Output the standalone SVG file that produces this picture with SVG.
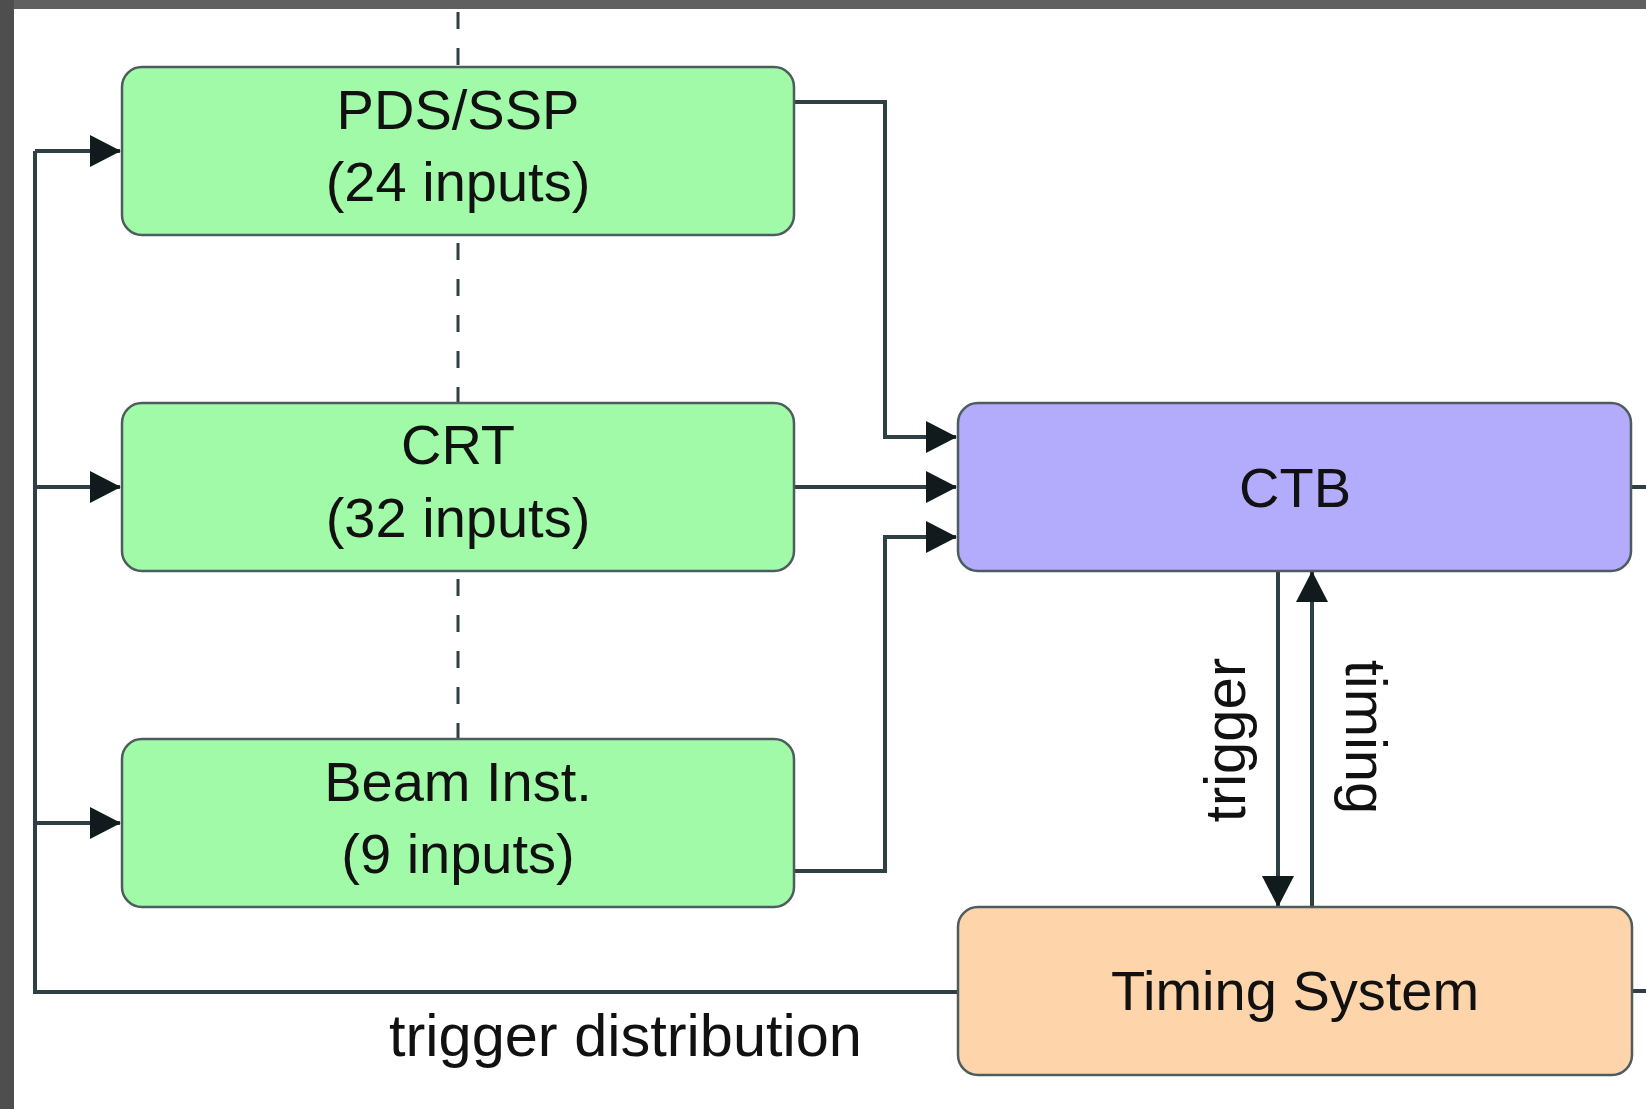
<svg xmlns="http://www.w3.org/2000/svg" width="1646" height="1109" viewBox="0 0 1646 1109">
  <style>
    .node rect { stroke: #4d5c5e; stroke-width: 2.5; }
    .pds rect, .crt rect, .beam rect { fill: #a0faa8; }
    .ctb rect { fill: #b3abfb; }
    .timing rect { fill: #fed4ab; }
    .label { font-family: "Liberation Sans", Arial, sans-serif; font-size: 56px; fill: #111; text-anchor: middle; }
    .edge { fill: none; stroke: #2e4044; stroke-width: 4; }
    .dash { fill: none; stroke: #2e4044; stroke-width: 3; stroke-dasharray: 17 19; }
    .elabel { font-family: "Liberation Sans", Arial, sans-serif; font-size: 58px; fill: #111; }
    .big { font-size: 59.5px; }
  </style>
  <defs>
    <marker id="arrow" markerUnits="userSpaceOnUse" markerWidth="32" markerHeight="32" refX="30" refY="16" orient="auto">
      <path d="M0,0 L31,16 L0,32 Z" fill="#111a1c"/>
    </marker>
  </defs>

  <!-- page background and frame -->
  <rect x="0" y="0" width="1646" height="1109" fill="#ffffff"/>
  <rect x="0" y="0" width="1646" height="9" fill="#5f5f5f"/>
  <rect x="0" y="0" width="14" height="1109" fill="#4e4e4e"/>

  <!-- dashed chain between the detector inputs -->
  <g id="chain">
    <line class="dash" x1="458" y1="12" x2="458" y2="66"/>
    <line class="dash" x1="458" y1="243" x2="458" y2="403"/>
    <line class="dash" x1="458" y1="579" x2="458" y2="739"/>
  </g>

  <g id="connectors">
    <!-- trigger distribution loop -->
    <path class="edge" d="M958,992 L35,992 L35,151"/>
    <path class="edge" d="M35,151 L120,151" marker-end="url(#arrow)"/>
    <path class="edge" d="M35,487 L120,487" marker-end="url(#arrow)"/>
    <path class="edge" d="M35,823 L120,823" marker-end="url(#arrow)"/>
    <!-- inputs to CTB -->
    <path class="edge" d="M794,102 L885,102 L885,437 L956,437" marker-end="url(#arrow)"/>
    <path class="edge" d="M794,487 L956,487" marker-end="url(#arrow)"/>
    <path class="edge" d="M794,871 L885,871 L885,537 L956,537" marker-end="url(#arrow)"/>
    <!-- CTB / timing system -->
    <path class="edge" d="M1278,571 L1278,906" marker-end="url(#arrow)"/>
    <path class="edge" d="M1312,907 L1312,572" marker-end="url(#arrow)"/>
    <!-- outgoing stubs -->
    <path class="edge" d="M1631,487 L1646,487"/>
    <path class="edge" d="M1632,991 L1646,991"/>
  </g>

  <g id="edge-labels">
    <text class="elabel" text-anchor="middle" transform="translate(1245,740) rotate(-90)">trigger</text>
    <text class="elabel" text-anchor="middle" transform="translate(1346,737) rotate(90)">timing</text>
    <text class="elabel big" x="389" y="1056">trigger distribution</text>
  </g>

  <g id="pds" class="node pds">
    <rect x="122" y="67" width="672" height="168" rx="20"/>
    <text class="label" x="458" y="129">PDS/SSP</text>
    <text class="label" x="458" y="201">(24 inputs)</text>
  </g>
  <g id="crt" class="node crt">
    <rect x="122" y="403" width="672" height="168" rx="20"/>
    <text class="label" x="458" y="464">CRT</text>
    <text class="label" x="458" y="537">(32 inputs)</text>
  </g>
  <g id="beam" class="node beam">
    <rect x="122" y="739" width="672" height="168" rx="20"/>
    <text class="label" x="458" y="801">Beam Inst.</text>
    <text class="label" x="458" y="873">(9 inputs)</text>
  </g>
  <g id="ctb" class="node ctb">
    <rect x="958" y="403" width="673" height="168" rx="20"/>
    <text class="label" x="1295" y="507">CTB</text>
  </g>
  <g id="timing" class="node timing">
    <rect x="958" y="907" width="674" height="168" rx="20"/>
    <text class="label" x="1295" y="1010">Timing System</text>
  </g>
</svg>
